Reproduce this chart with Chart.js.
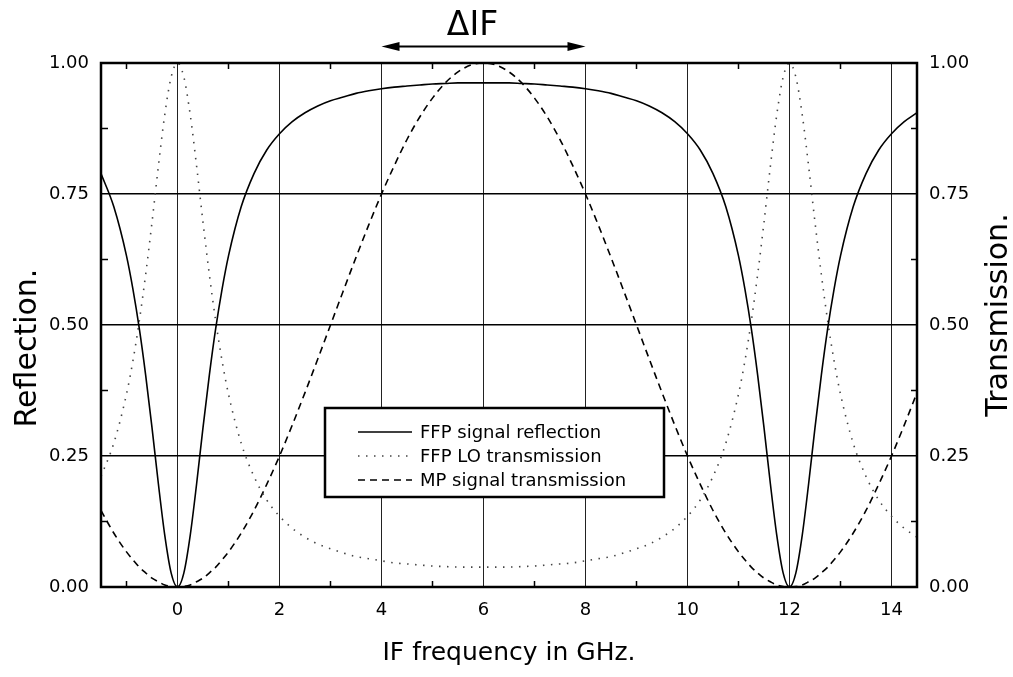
<!DOCTYPE html>
<html><head><meta charset="utf-8">
<script src="https://cdn.jsdelivr.net/npm/chart.js@4/dist/chart.umd.min.js"></script>
<style>html,body{margin:0;padding:0;background:#fff}#wrap{width:1013px;height:677px;position:relative}</style>
</head><body><div id="wrap"><canvas id="c"></canvas></div>
<script>
// ---- data ----
const freq = [-1.5,-1.25,-1,-0.875,-0.75,-0.625,-0.5,-0.375,-0.25,-0.125,0,0.125,0.25,0.375,0.5,0.625,0.75,0.875,1,
  1.25,1.5,1.75,2,2.25,2.5,2.75,3,3.25,3.5,3.75,4,4.25,4.5,4.75,5,5.25,5.5,5.75,6,
  6.25,6.5,6.75,7,7.25,7.5,7.75,8,8.25,8.5,8.75,9,9.25,9.5,9.75,10,10.25,10.5,10.75,
  11,11.125,11.25,11.375,11.5,11.625,11.75,11.875,12,12.125,12.25,12.375,12.5,12.625,12.75,12.875,13,
  13.25,13.5,13.75,14,14.25,14.5];
const ffpSignalReflection = [0.789,0.726,0.632,0.569,0.494,0.405,0.304,0.197,0.099,0.027,0,0.027,0.099,0.197,0.304,0.405,0.494,0.569,0.632,
  0.726,0.789,0.834,0.865,0.888,0.905,0.918,0.928,0.935,0.942,0.947,0.951,0.954,0.956,0.958,0.960,0.961,0.962,0.962,0.962,
  0.962,0.962,0.961,0.960,0.958,0.956,0.954,0.951,0.947,0.942,0.935,0.928,0.918,0.905,0.888,0.865,0.834,0.789,0.726,
  0.632,0.569,0.494,0.405,0.304,0.197,0.099,0.027,0,0.027,0.099,0.197,0.304,0.405,0.494,0.569,0.632,
  0.726,0.789,0.834,0.865,0.888,0.905];
const ffpLoTransmission = [0.211,0.274,0.368,0.431,0.507,0.596,0.696,0.803,0.901,0.973,1,0.973,0.901,0.803,0.696,0.596,0.507,0.431,0.368,
  0.274,0.211,0.166,0.135,0.112,0.095,0.082,0.073,0.065,0.058,0.054,0.050,0.046,0.044,0.042,0.040,0.039,0.038,0.038,0.038,
  0.038,0.038,0.039,0.040,0.042,0.044,0.046,0.050,0.054,0.058,0.065,0.073,0.082,0.095,0.112,0.135,0.166,0.211,0.274,
  0.368,0.431,0.507,0.596,0.696,0.803,0.901,0.973,1,0.973,0.901,0.803,0.696,0.596,0.507,0.431,0.368,
  0.274,0.211,0.166,0.135,0.112,0.095];
const mpSignalTransmission = [0.146,0.103,0.067,0.052,0.038,0.027,0.017,0.010,0.004,0.001,0,0.001,0.004,0.010,0.017,0.027,0.038,0.052,0.067,
  0.103,0.146,0.196,0.250,0.309,0.371,0.435,0.500,0.565,0.629,0.691,0.750,0.804,0.854,0.897,0.933,0.962,0.983,0.996,1.000,
  0.996,0.983,0.962,0.933,0.897,0.854,0.804,0.750,0.691,0.629,0.565,0.500,0.435,0.371,0.309,0.250,0.196,0.146,0.103,
  0.067,0.052,0.038,0.027,0.017,0.010,0.004,0.001,0,0.001,0.004,0.010,0.017,0.027,0.038,0.052,0.067,
  0.103,0.146,0.196,0.250,0.309,0.371];
const seriesLabels = ['FFP signal reflection','FFP LO transmission','MP signal transmission'];
const xTickValues = [0,2,4,6,8,10,12,14];
const yTickValues = [0,0.25,0.5,0.75,1];
const xMinorTicks = [-1,1,3,5,7,9,11,13];
const yMinorTicks = [0.125,0.375,0.625,0.875];
const bandStart = 4, bandEnd = 8, bandLabel = '\u0394IF';
const xTitle = 'IF frequency in GHz.', yLeftTitle = 'Reflection.', yRightTitle = 'Transmission.';

const FAMILY = "'DejaVu Sans', sans-serif";
const toPts = ys => freq.map((x, i) => ({x: x, y: ys[i]}));

const decor = {
  id: 'decor',
  afterDatasetsDraw(chart) {
    const {ctx, chartArea: a, scales} = chart;
    const xs = scales.x, ys = scales.y;
    ctx.save();
    ctx.strokeStyle = '#000'; ctx.lineWidth = 1.5; ctx.setLineDash([]);
    ctx.beginPath();
    xMinorTicks.forEach(v => { const p = xs.getPixelForValue(v);
      ctx.moveTo(p, a.bottom); ctx.lineTo(p, a.bottom - 6);
      ctx.moveTo(p, a.top); ctx.lineTo(p, a.top + 6); });
    yMinorTicks.forEach(v => { const p = ys.getPixelForValue(v);
      ctx.moveTo(a.left, p); ctx.lineTo(a.left + 7, p);
      ctx.moveTo(a.right, p); ctx.lineTo(a.right - 6, p); });
    ctx.stroke();
    ctx.lineWidth = 2.5;
    ctx.strokeRect(a.left, a.top, a.right - a.left, a.bottom - a.top);
    // legend box
    const bx = a.left + 224, by = a.top + 345, bw = 339, bh = 89;
    ctx.fillStyle = '#fff'; ctx.fillRect(bx, by, bw, bh);
    ctx.strokeStyle = '#000'; ctx.lineWidth = 2.5; ctx.strokeRect(bx, by, bw, bh);
    ctx.font = '18px ' + FAMILY; ctx.textBaseline = 'middle'; ctx.textAlign = 'left';
    chart.data.datasets.forEach((ds, i) => {
      const yy = by + 24 + i * 24;
      ctx.strokeStyle = ds.borderColor; ctx.lineWidth = ds.borderWidth;
      ctx.setLineDash(ds.borderDash || []);
      ctx.beginPath(); ctx.moveTo(bx + 33, yy); ctx.lineTo(bx + 87, yy); ctx.stroke();
      ctx.setLineDash([]);
      ctx.fillStyle = '#000';
      ctx.fillText(ds.label, bx + 95, yy + 1);
    });
    ctx.restore();
  },
  afterDraw(chart) {
    const {ctx, chartArea: a, scales} = chart;
    const xs = scales.x;
    ctx.save();
    // Delta IF arrow
    const x1 = xs.getPixelForValue(bandStart), x2 = xs.getPixelForValue(bandEnd);
    const ay = a.top - 16.5;
    ctx.strokeStyle = '#000'; ctx.fillStyle = '#000'; ctx.lineWidth = 2;
    ctx.beginPath(); ctx.moveTo(x1 + 10, ay); ctx.lineTo(x2 - 10, ay); ctx.stroke();
    ctx.beginPath(); ctx.moveTo(x1, ay); ctx.lineTo(x1 + 18, ay - 4.5); ctx.lineTo(x1 + 18, ay + 4.5); ctx.closePath(); ctx.fill();
    ctx.beginPath(); ctx.moveTo(x2, ay); ctx.lineTo(x2 - 18, ay - 4.5); ctx.lineTo(x2 - 18, ay + 4.5); ctx.closePath(); ctx.fill();
    ctx.font = '33px ' + FAMILY; ctx.textAlign = 'center'; ctx.textBaseline = 'alphabetic';
    ctx.fillText(bandLabel, (x1 + x2) / 2 - 11, a.top - 28);
    // vertical axis titles
    ctx.font = '30px ' + FAMILY;
    ctx.save(); ctx.translate(a.left - 65, a.top + 285); ctx.rotate(-Math.PI / 2);
    ctx.fillText(yLeftTitle, 0, 0); ctx.restore();
    ctx.save(); ctx.translate(a.right + 90, a.top + 252); ctx.rotate(-Math.PI / 2);
    ctx.fillText(yRightTitle, 0, 0); ctx.restore();
    ctx.restore();
  }
};

const tickFont = {family: FAMILY, size: 18, lineHeight: 1.2};
new Chart(document.getElementById('c'), {
  type: 'line',
  data: {
    datasets: [
      {label: seriesLabels[0], data: toPts(ffpSignalReflection), yAxisID: 'y',
       borderColor: '#000', borderWidth: 1.6, borderDash: [], pointRadius: 0, fill: false, cubicInterpolationMode: 'monotone'},
      {label: seriesLabels[1], data: toPts(ffpLoTransmission), yAxisID: 'y2',
       borderColor: '#444', borderWidth: 1.6, borderDash: [1.5, 6.5], pointRadius: 0, fill: false, cubicInterpolationMode: 'monotone'},
      {label: seriesLabels[2], data: toPts(mpSignalTransmission), yAxisID: 'y2',
       borderColor: '#000', borderWidth: 1.6, borderDash: [7, 5], pointRadius: 0, fill: false, cubicInterpolationMode: 'monotone'}
    ]
  },
  options: {
    responsive: true, maintainAspectRatio: false, animation: false,
    layout: {padding: {top: 63, left: 0, right: 0, bottom: 0}},
    plugins: {legend: {display: false}, tooltip: {enabled: false}},
    scales: {
      x: {type: 'linear', position: 'bottom', min: -1.5, max: 14.5,
        afterBuildTicks: s => { s.ticks = xTickValues.map(v => ({value: v})); },
        afterFit: s => { s.height = 90; },
        ticks: {font: tickFont, color: '#000', padding: 13, maxRotation: 0, autoSkip: false, callback: v => String(v)},
        grid: {color: '#222', lineWidth: 1, drawTicks: false},
        border: {display: false},
        title: {display: true, text: xTitle, color: '#000', font: {family: FAMILY, size: 25, lineHeight: 1.2}, padding: {top: 0, bottom: 9}}
      },
      y: {type: 'linear', position: 'left', min: 0, max: 1,
        afterBuildTicks: s => { s.ticks = yTickValues.map(v => ({value: v})); },
        afterFit: s => { s.width = 101; },
        ticks: {font: tickFont, color: '#000', padding: 12, callback: v => Number(v).toFixed(2)},
        grid: {color: '#000', lineWidth: 1.5, drawTicks: false},
        border: {display: false},
        title: {display: false, text: yLeftTitle}
      },
      y2: {type: 'linear', position: 'right', min: 0, max: 1,
        afterBuildTicks: s => { s.ticks = yTickValues.map(v => ({value: v})); },
        afterFit: s => { s.width = 96; },
        ticks: {font: tickFont, color: '#000', padding: 12, callback: v => Number(v).toFixed(2)},
        grid: {display: false, drawTicks: false},
        border: {display: false},
        title: {display: false, text: yRightTitle}
      }
    }
  },
  plugins: [decor]
});
</script>
</body></html>
